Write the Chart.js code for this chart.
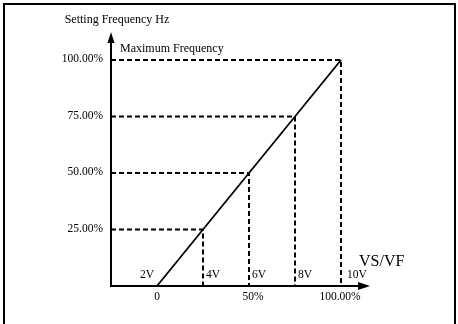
<!DOCTYPE html>
<html>
<head>
<meta charset="utf-8">
<script src="https://cdn.jsdelivr.net/npm/chart.js@4.4.0/dist/chart.umd.min.js"></script>
<style>
  html, body { margin: 0; padding: 0; background: #fff; }
  #wrap { width: 458px; height: 324px; }
</style>
</head>
<body>
<div id="wrap"><canvas id="vfChart" width="458" height="324"></canvas></div>
<script>
// input voltage (V) and the setting frequency (% of max) it gives
const volts = [2, 4, 6, 8, 10];
const freqPct = [0, 25, 50, 75, 100];
const voltLabels = ['2V', '4V', '6V', '8V', '10V'];
const freqLabels = ['0', '25.00%', '50.00%', '75.00%', '100.00%'];
// labels under the horizontal axis
const bottomVolts = [2, 6, 10];
const bottomLabels = ['0', '50%', '100.00%'];

const FONT = '"Liberation Serif", "Times New Roman", serif';

// main V/F line
const datasets = [{
    data: volts.map((v, i) => ({ x: v, y: freqPct[i] })),
    borderColor: '#000',
    borderWidth: 1.8,
    pointRadius: 0,
    clip: false
}];

// dashed guides: from the y axis across to the point, then down to the x axis
for (let i = 1; i < volts.length; i++) {
    datasets.push({
        data: [
            { x: 0, y: freqPct[i] },
            { x: volts[i], y: freqPct[i] },
            { x: volts[i], y: 0 }
        ],
        borderColor: '#000',
        borderWidth: 2,
        borderDash: [5, 3],
        pointRadius: 0,
        clip: false
    });
}

// draws the frame, axes with arrows and all the texts
const decorPlugin = {
    id: 'decor',
    beforeDraw(chart) {
        const ctx = chart.ctx;
        ctx.save();
        ctx.fillStyle = '#fff';
        ctx.fillRect(0, 0, chart.width, chart.height);
        ctx.restore();
    },
    afterDraw(chart) {
        const ctx = chart.ctx;
        const xs = chart.scales.x, ys = chart.scales.y;
        const x0 = xs.getPixelForValue(0), y0 = ys.getPixelForValue(0);
        const xEnd = xs.getPixelForValue(11.26);
        const yEnd = ys.getPixelForValue(112.4);

        ctx.save();
        ctx.strokeStyle = '#000';
        ctx.fillStyle = '#000';

        // outer frame (open at the bottom)
        ctx.lineWidth = 2;
        ctx.beginPath();
        ctx.moveTo(4, chart.height + 2);
        ctx.lineTo(4, 4);
        ctx.lineTo(455, 4);
        ctx.lineTo(455, chart.height + 2);
        ctx.stroke();

        // axes
        ctx.lineWidth = 2;
        ctx.beginPath();
        ctx.moveTo(x0, y0);
        ctx.lineTo(x0, yEnd + 8);
        ctx.moveTo(x0 - 1, y0);
        ctx.lineTo(xEnd - 10, y0);
        ctx.stroke();

        // arrow heads
        ctx.beginPath();
        ctx.moveTo(x0, yEnd);
        ctx.lineTo(x0 - 3.5, yEnd + 11);
        ctx.lineTo(x0 + 3.5, yEnd + 11);
        ctx.closePath();
        ctx.fill();
        ctx.beginPath();
        ctx.moveTo(xEnd, y0);
        ctx.lineTo(xEnd - 12, y0 - 4);
        ctx.lineTo(xEnd - 12, y0 + 4);
        ctx.closePath();
        ctx.fill();

        // y labels
        ctx.font = '11.5px ' + FONT;
        ctx.textAlign = 'right';
        ctx.textBaseline = 'middle';
        for (let i = 1; i < freqPct.length; i++) {
            ctx.fillText(freqLabels[i], x0 - 8, ys.getPixelForValue(freqPct[i]) - 1);
        }

        // voltage labels next to the guides
        ctx.textAlign = 'left';
        ctx.fillText(voltLabels[0], xs.getPixelForValue(volts[0]) - 17, y0 - 11);
        for (let i = 1; i < volts.length; i++) {
            ctx.fillText(voltLabels[i], xs.getPixelForValue(volts[i]) + 3 + (i === 4 ? 3 : 0), y0 - 11);
        }

        // bottom labels
        ctx.textAlign = 'center';
        bottomVolts.forEach((v, i) => {
            const shift = i === 1 ? 4 : (i === 2 ? -1 : 0);
            ctx.fillText(bottomLabels[i], xs.getPixelForValue(v) + shift, y0 + 11);
        });

        // titles
        ctx.font = '12px ' + FONT;
        ctx.fillText('Setting Frequency Hz', x0 + 6, 20);
        ctx.textAlign = 'left';
        ctx.fillText('Maximum Frequency', x0 + 9, 49);
        ctx.font = '16px ' + FONT;
        ctx.fillText('VS/VF', xEnd - 11, y0 - 24);

        ctx.restore();
    }
};

new Chart(document.getElementById('vfChart'), {
    type: 'line',
    data: { datasets: datasets },
    options: {
        responsive: false,
        animation: false,
        layout: { padding: { left: 111, right: 117, top: 60, bottom: 38 } },
        plugins: { legend: { display: false }, tooltip: { enabled: false } },
        scales: {
            x: { type: 'linear', min: 0, max: 10, display: false },
            y: { type: 'linear', min: 0, max: 100, display: false }
        }
    },
    plugins: [decorPlugin]
});
</script>
</body>
</html>
